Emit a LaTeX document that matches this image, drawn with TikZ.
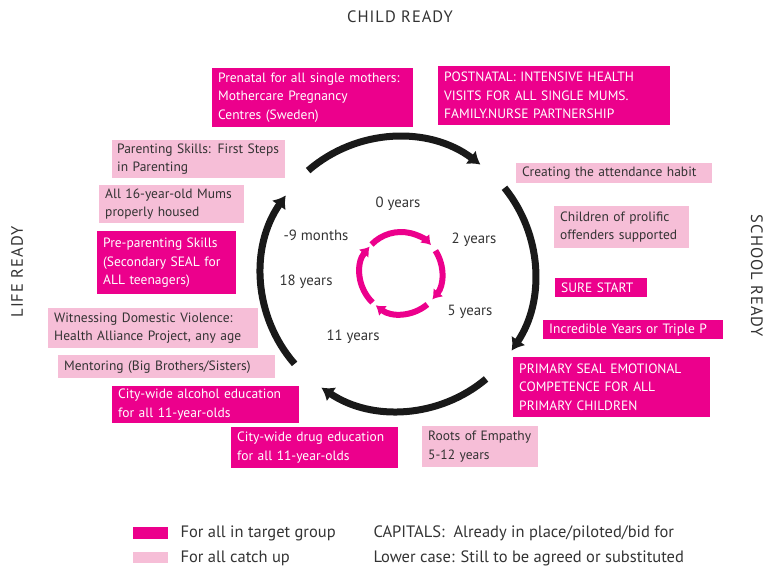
\documentclass[tikz,border=0pt]{standalone}
\usepackage{fontspec}
\setmainfont{PT Sans}
\usetikzlibrary{arrows.meta}
\definecolor{hotpink}{HTML}{EC008C}
\definecolor{palepink}{HTML}{F6BED7}
\definecolor{inkgray}{HTML}{333333}
\tikzset{
  box/.style={anchor=north west, align=left, inner xsep=6pt, inner ysep=1pt,
    font=\fontsize{13.5}{18.5}\selectfont},
  target/.style={box, fill=hotpink, text=white},
  catchup/.style={box, fill=palepink, text=inkgray},
  plain/.style={text=inkgray, font=\fontsize{14.8}{17}\selectfont},
  keytext/.style={plain, anchor=west, font=\fontsize{16.5}{19}\selectfont},
  sidetitle/.style={text=inkgray, font=\fontsize{16.5}{19}\selectfont\addfontfeatures{LetterSpace=6}},
  bigloop/.style={line width=7pt, color=black!90, -{Latex[length=12pt,width=17pt]}},
  smallloop/.style={line width=6pt, color=hotpink, -{Latex[length=9pt,width=13pt]}}
}
\begin{document}
\begin{tikzpicture}[x=1pt,y=1pt]
\useasboundingbox (0,0) rectangle (765,-568);

% the two cycles
\coordinate (mid) at (398,-274);
\coordinate (hub) at (401,-273);
\draw[bigloop] ([shift={(131:137)}]mid) arc[start angle=131, end angle=53, radius=137];
\draw[bigloop] ([shift={(39:137)}]mid) arc[start angle=39, end angle=-34, radius=137];
\draw[bigloop] ([shift={(-50:137)}]mid) arc[start angle=-50, end angle=-124, radius=137];
\draw[bigloop] ([shift={(221:137)}]mid) arc[start angle=221, end angle=145, radius=137];

\draw[smallloop] ([shift={(136:41)}]hub) arc[start angle=136, end angle=43, radius=41];
\draw[smallloop] ([shift={(33:41)}]hub) arc[start angle=33, end angle=-40, radius=41];
\draw[smallloop] ([shift={(-50:41)}]hub) arc[start angle=-50, end angle=-128, radius=41];
\draw[smallloop] ([shift={(226:41)}]hub) arc[start angle=226, end angle=140, radius=41];

% ages
\node[plain] (age0) at (398,-204) {0 years};
\node[plain] (age2) at (474,-240) {2 years};
\node[plain] (age5) at (470,-312) {5 years};
\node[plain] (age11) at (353,-337) {11 years};
\node[plain] (age18) at (306,-282) {18 years};
\node[plain] (agem9) at (316,-235) {-9 months};

% side titles
\node[sidetitle] (child) at (400,-17) {CHILD READY};
\node[sidetitle, rotate=-90] (school) at (757,-276) {SCHOOL READY};
\node[sidetitle, rotate=90] (life) at (17,-272) {LIFE READY};

% top
\node[target, text width=189pt, minimum height=59pt] (prenatal) at (212,-68) {Prenatal for all single mothers:\\Mothercare Pregnancy\\Centres (Sweden)};
\node[target, text width=220pt, minimum height=59pt] (postnatal) at (438,-66) {POSTNATAL: INTENSIVE HEALTH\\VISITS FOR ALL SINGLE MUMS.\\FAMILY.NURSE PARTNERSHIP};

% right
\node[catchup, text width=184pt, minimum height=20pt] (habit) at (516,-163) {Creating the attendance habit};
\node[catchup, text width=123pt, minimum height=42pt] (prolific) at (554,-206) {Children of prolific\\offenders supported};
\node[target, text width=80pt, minimum height=19pt] (surestart) at (555,-278) {SURE START};
\node[target, text width=168pt, minimum height=19pt] (incredible) at (543,-320) {Incredible Years or Triple P};
\node[target, text width=185pt, minimum height=60pt] (primary) at (513,-357) {PRIMARY SEAL EMOTIONAL\\COMPETENCE FOR ALL\\PRIMARY CHILDREN};

% bottom
\node[catchup, text width=104pt, minimum height=41pt] (roots) at (422,-426) {Roots of Empathy\\5-12 years};
\node[target, text width=155pt, minimum height=41pt] (drug) at (231,-427) {City-wide drug education\\for all 11-year-olds};
\node[target, text width=175pt, minimum height=37pt] (alcohol) at (112,-386) {City-wide alcohol education\\for all 11-year-olds};

% left
\node[catchup, text width=205pt, minimum height=23pt] (mentor) at (58,-355) {Mentoring (Big Brothers/Sisters)};
\node[catchup, text width=198pt, minimum height=40pt] (violence) at (48,-308) {Witnessing Domestic Violence:\\Health Alliance Project, any age};
\node[target, text width=127pt, minimum height=63pt] (preparent) at (97,-231) {Pre-parenting Skills\\(Secondary SEAL for\\ALL teenagers)};
\node[catchup, text width=133pt, minimum height=38pt] (housed) at (99,-185) {All 16-year-old Mums\\properly housed};
\node[catchup, inner xsep=5pt, text width=163pt, minimum height=38pt] (firststeps) at (112,-140) {Parenting Skills: First Steps\\in Parenting};

% key
\fill[hotpink] (133,-527) rectangle (168,-539);
\fill[palepink] (133,-552) rectangle (168,-563);
\node[keytext] (keytarget) at (177,-533) {For all in target group};
\node[keytext] (keycatch) at (177,-558) {For all catch up};
\node[keytext] (keycaps) at (370,-533) {CAPITALS:\ \ Already in place/piloted/bid for};
\node[keytext] (keylower) at (370,-558) {Lower case: Still to be agreed or substituted};
\end{tikzpicture}
\end{document}
